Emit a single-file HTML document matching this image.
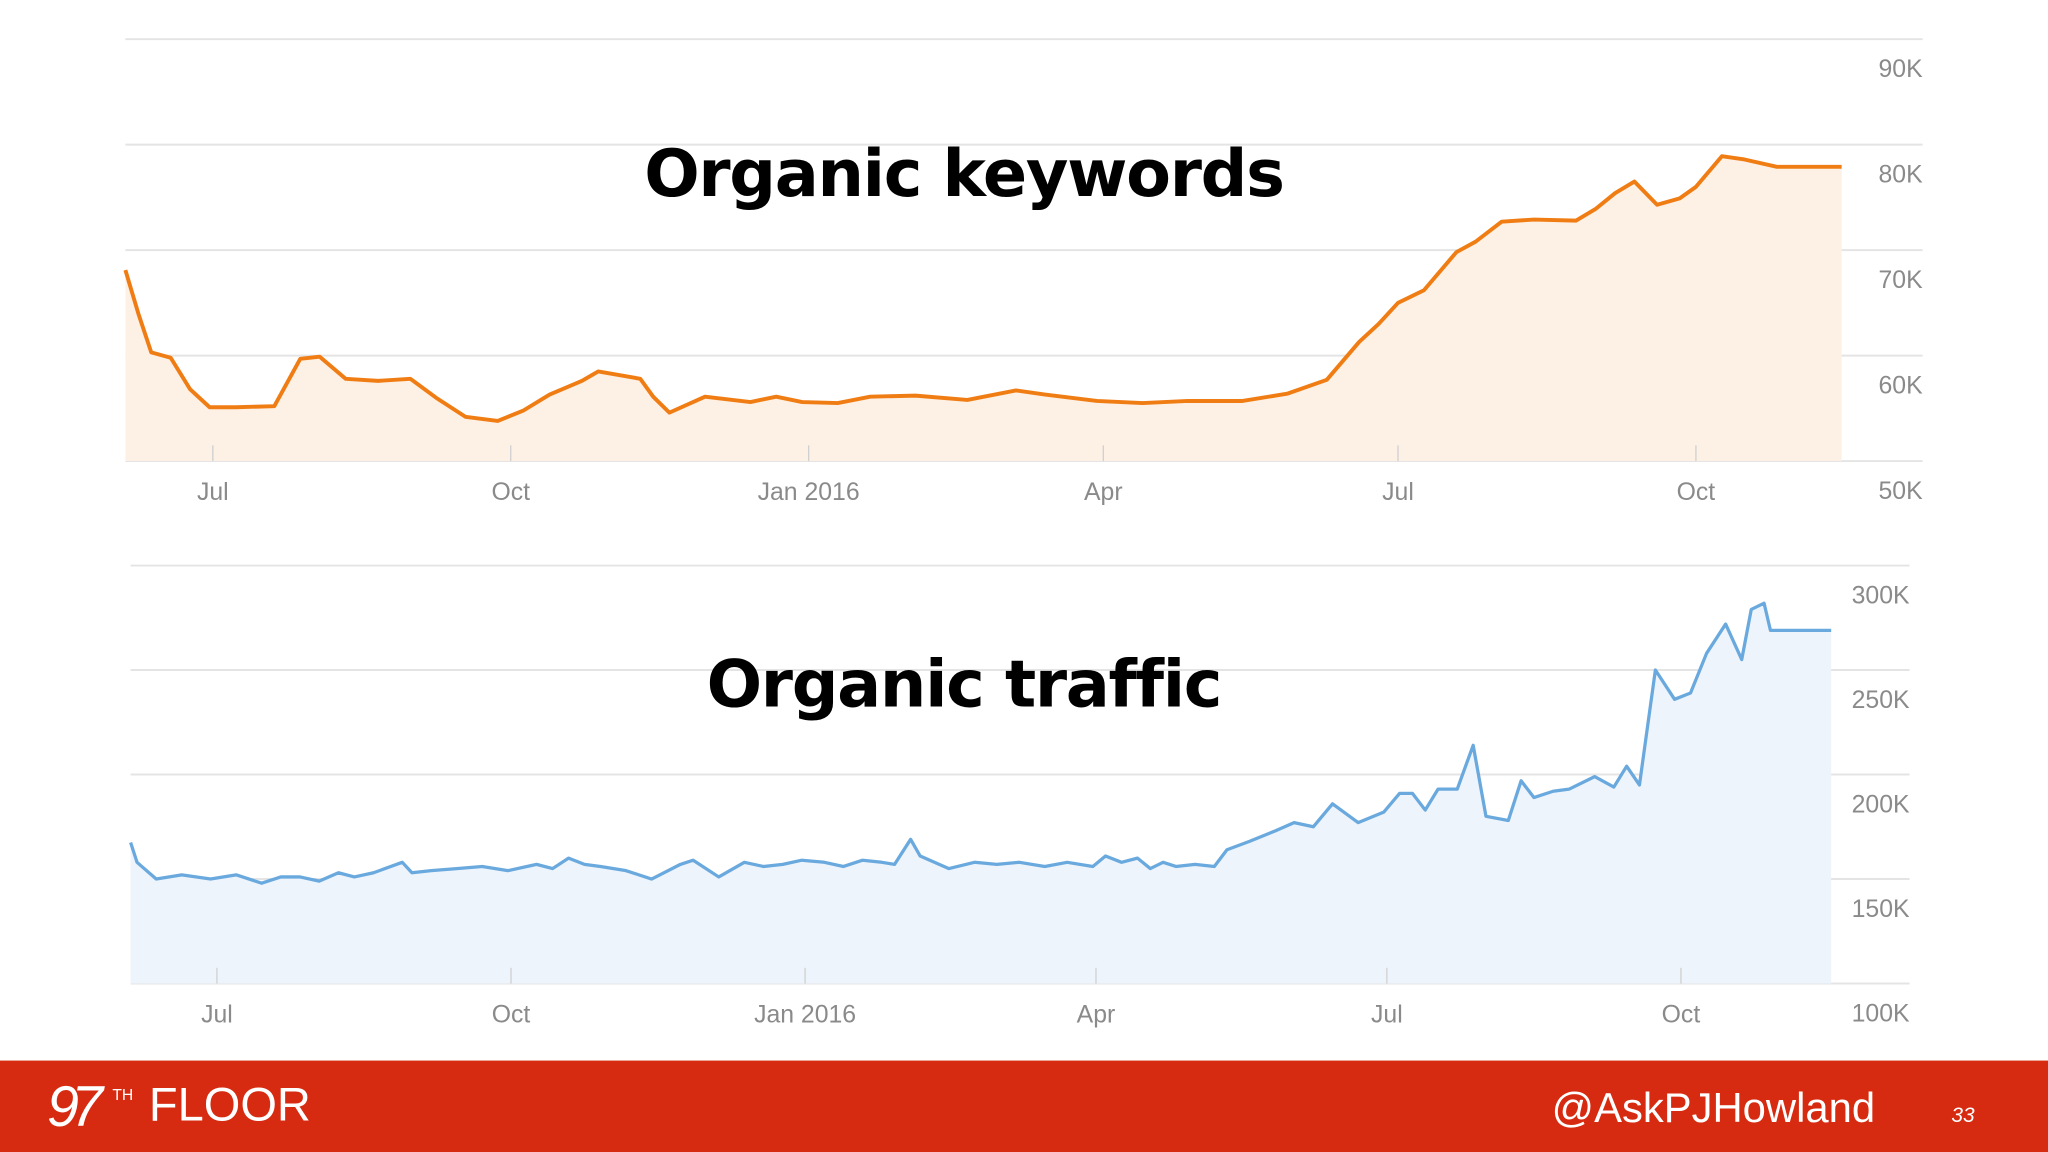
<!DOCTYPE html>
<html><head><meta charset="utf-8"><style>
html,body{margin:0;padding:0;background:#fff;}
svg{display:block;}
text{font-family:"Liberation Sans",sans-serif;}
</style></head><body>
<svg id="s" width="2048" height="1152" viewBox="0 0 1568 882" xmlns="http://www.w3.org/2000/svg">
<g id="top"></g>
<g id="bot"></g>
<text x="738" y="150" text-anchor="middle" font-size="50" font-weight="bold" fill="#000" style="font-family:'DejaVu Sans','Liberation Sans',sans-serif;letter-spacing:-1px">Organic keywords</text>
<text x="738" y="541" text-anchor="middle" font-size="50" font-weight="bold" fill="#000" style="font-family:'DejaVu Sans','Liberation Sans',sans-serif;letter-spacing:-1px">Organic traffic</text>
<rect x="0" y="812" width="1568" height="70" fill="#d62b10"/>
<g fill="#fff">
<text x="36" y="862" font-size="44" font-style="italic" fill="#fff" style="letter-spacing:-6px">97</text>
<text x="86" y="842" font-size="12" fill="#fff">TH</text>
<text x="114" y="858" font-size="36" fill="#fff">FLOOR</text>
</g>
<text x="1188" y="859" font-size="32" fill="#fff">@AskPJHowland</text>
<text x="1494" y="859" font-size="16" font-style="italic" fill="#fff">33</text>
</svg>
<script>
const kwDays=[0,4,8,14,20,26,34,46,54,60,68,78,88,96,105,115,123,131,141,146,159,163,168,179,193,201,209,220,230,244,260,275,284,300,314,328,345,359,371,381,387,393,401,411,417,425,435,448,454,460,466,473,480,485,493,500,510,530];
const kwVals=[68.1,64,60.3,59.8,56.8,55.1,55.1,55.2,59.7,59.9,57.8,57.6,57.8,56,54.2,53.8,54.8,56.3,57.6,58.5,57.8,56.1,54.6,56.1,55.6,56.1,55.6,55.5,56.1,56.2,55.8,56.7,56.3,55.7,55.5,55.7,55.7,56.4,57.7,61.3,63,65,66.2,69.8,70.8,72.7,72.9,72.8,73.9,75.4,76.5,74.3,74.9,76,78.9,78.6,77.9,77.9];
const kwTicks=[90,80,70,60,50];
const trDays=[0,2,8,16,25,33,41,47,53,59,65,70,76,85,88,94,102,110,118,127,132,137,142,147,155,163,172,176,184,192,198,204,210,217,223,229,235,239,244,247,256,264,271,278,286,293,301,305,310,315,319,323,327,333,339,343,350,358,364,370,376,384,392,397,401,405,409,415,420,424,431,435,439,445,450,458,464,468,472,477,483,488,493,499,504,507,511,513,532];
const trVals=[167.5,158,150,152,150,152,148,151,151,149,153,151,153,158,153,154,155,156,154,157,155,160,157,156,154,150,157,159,151,158,156,157,159,158,156,159,158,157,169,161,155,158,157,158,156,158,156,161,158,160,155,158,156,157,156,164,168,173,177,175,186,177,182,191,191,183,193,193,214,180,178,197,189,192,193,199,194,204,195,250,236,239,258,272,255,279,282,269,269];
const trTicks=[300,250,200,150,100];
const monthLabels=["Jul","Oct","Jan 2016","Apr","Jul","Oct"];
const monthDays=[27,119,211,302,393,485];

const NS="http://www.w3.org/2000/svg";
function mk(p,tag,a){const e=document.createElementNS(NS,tag);for(const k in a)e.setAttribute(k,a[k]);p.appendChild(e);return e;}
function chart(g,cfg,days,vals,ticks,prefix){
  const x=d=>cfg.x0+(d-cfg.d0)/(cfg.d1-cfg.d0)*(cfg.x1-cfg.x0);
  const y=v=>cfg.yTop+(cfg.vTop-v)/(cfg.vTop-cfg.vBot)*(cfg.yBot-cfg.yTop);
  ticks.forEach(t=>{
    const l=mk(g,'line',{x1:cfg.x0,x2:cfg.gx1,y1:y(t),y2:y(t),stroke:'#e4e4e4','stroke-width':1.5});
    
    
    const tx=mk(g,'text',{x:cfg.gx1,y:y(t)+29,'text-anchor':'end','font-size':19,fill:'#8a8a8a'});
    tx.textContent=t+'K';
    
    
  });
  let pts=days.map((d,i)=>x(d).toFixed(1)+','+y(vals[i]).toFixed(1));
  const area=mk(g,'polygon',{points:x(days[0])+','+cfg.yBot+' '+pts.join(' ')+' '+x(days[days.length-1])+','+cfg.yBot,fill:cfg.fill});
  
  
  const ln=mk(g,'polyline',{points:pts.join(' '),fill:'none',stroke:cfg.stroke,'stroke-width':cfg.sw,'stroke-linejoin':'round'});
  
  
  monthDays.forEach((d,i)=>{
    const t=mk(g,'line',{x1:x(d),x2:x(d),y1:cfg.yBot-12,y2:cfg.yBot,stroke:'#d0d0d0','stroke-width':1});
    
    
    const tx=mk(g,'text',{x:x(d),y:cfg.yBot+30,'text-anchor':'middle','font-size':19,fill:'#8a8a8a'});
    tx.textContent=monthLabels[i];
    
    
  });
}
chart(document.getElementById('top'),{x0:96,x1:1410,gx1:1472,d0:0,d1:530,yTop:30,yBot:353,vTop:90,vBot:50,fill:'#fdf0e5',stroke:'#f07d14',sw:3},kwDays,kwVals,kwTicks,'keywords');
chart(document.getElementById('bot'),{x0:100,x1:1402,gx1:1462,d0:0,d1:532,yTop:433,yBot:753,vTop:300,vBot:100,fill:'#eef4fb',stroke:'#6aa9de',sw:2.5},trDays,trVals,trTicks,'traffic');
</script>
</body></html>
